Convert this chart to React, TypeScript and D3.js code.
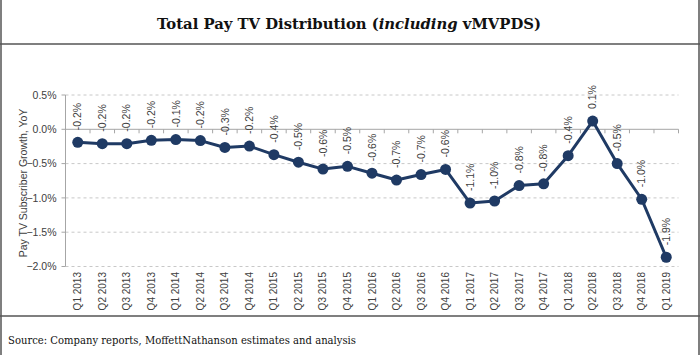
import React from "react";
import * as d3 from "d3";

const categories = [
  "Q1 2013","Q2 2013","Q3 2013","Q4 2013",
  "Q1 2014","Q2 2014","Q3 2014","Q4 2014",
  "Q1 2015","Q2 2015","Q3 2015","Q4 2015",
  "Q1 2016","Q2 2016","Q3 2016","Q4 2016",
  "Q1 2017","Q2 2017","Q3 2017","Q4 2017",
  "Q1 2018","Q2 2018","Q3 2018","Q4 2018",
  "Q1 2019",
];
const values = [
  -0.19, -0.21, -0.21, -0.16,
  -0.15, -0.165, -0.265, -0.245,
  -0.37, -0.48, -0.58, -0.54,
  -0.64, -0.74, -0.66, -0.585,
  -1.075, -1.045, -0.82, -0.795,
  -0.385, 0.12, -0.50, -1.02,
  -1.865,
];
const labels = [
  "-0.2%","-0.2%","-0.2%","-0.2%",
  "-0.1%","-0.2%","-0.3%","-0.2%",
  "-0.4%","-0.5%","-0.6%","-0.5%",
  "-0.6%","-0.7%","-0.7%","-0.6%",
  "-1.1%","-1.0%","-0.8%","-0.8%",
  "-0.4%","0.1%","-0.5%","-1.0%",
  "-1.9%",
];
const yTicks = [0.5, 0, -0.5, -1.0, -1.5, -2.0];
const title = "Total Pay TV Distribution (";
const titleItalic = "including";
const titleEnd = " vMVPDS)";
const yTitle = "Pay TV Subscriber Growth, YoY";
const source = "Source: Company reports, MoffettNathanson estimates and analysis";

const W = 700, H = 355;
const left = 65.5, right = 678.5, top = 95, bottom = 266.5;
const navy = "#1F3A64";
const sans = "'Liberation Sans', Arial, sans-serif";
const serif = "'DejaVu Serif', Georgia, serif";

export default function App() {
  const x = d3.scaleBand<string>().domain(categories).range([left, right]).padding(0);
  const y = d3.scaleLinear().domain([-2, 0.5]).range([bottom, top]);
  const cx = (c: string) => (x(c) as number) + x.bandwidth() / 2;
  const line = d3.line<number>().x((_, i) => cx(categories[i])).y((v) => y(v));
  const fmt = (v: number) => d3.format(".1f")(v) + "%";

  return (
    <svg width={W} height={H} style={{ position: "absolute", left: 0, top: 0, background: "#fff" }}>
      <rect x={0} y={0} width={W} height={H} fill="#fff" />
      {/* frame */}
      <line x1={1} y1={0} x2={1} y2={H} stroke="#555" strokeWidth={1.5} />
      <line x1={699} y1={0} x2={699} y2={H} stroke="#555" strokeWidth={1.5} />
      <line x1={0} y1={44} x2={W} y2={44} stroke="#555" strokeWidth={1.5} />
      <line x1={0} y1={316} x2={W} y2={316} stroke="#555" strokeWidth={1.5} />

      {/* title */}
      <text x={349} y={29} textAnchor="middle" fontFamily={serif} fontWeight="bold" fontSize={14.5} fill="#111" textLength={384} lengthAdjust="spacingAndGlyphs">
        {title}
        <tspan fontStyle="italic">{titleItalic}</tspan>
        {titleEnd}
      </text>

      {/* gridlines */}
      {yTicks.filter((t) => t !== 0).map((t) => (
        <line key={"g" + t} x1={left} x2={right} y1={y(t)} y2={y(t)} stroke="#c8c8c8" strokeWidth={1} strokeDasharray="3,3" />
      ))}
      {/* y axis */}
      <line x1={left} x2={left} y1={top} y2={bottom} stroke="#a6a6a6" strokeWidth={1} />
      {yTicks.map((t) => (
        <g key={"yt" + t}>
          <line x1={left - 4} x2={left} y1={y(t)} y2={y(t)} stroke="#a6a6a6" />
          <text x={left - 9} y={y(t)} dy="0.35em" textAnchor="end" fontFamily={sans} fontSize={10.5} fill="#404040">
            {fmt(t)}
          </text>
        </g>
      ))}
      {/* zero axis */}
      <line x1={left} x2={right} y1={y(0)} y2={y(0)} stroke="#a6a6a6" strokeWidth={1} />
      {categories.map((c) => (
        <line key={"xt" + c} x1={(x(c) as number) + x.bandwidth()} x2={(x(c) as number) + x.bandwidth()} y1={y(0)} y2={y(0) + 4} stroke="#a6a6a6" />
      ))}
      {/* x labels */}
      {categories.map((c) => (
        <text key={"xl" + c} transform={`translate(${cx(c)},272) rotate(-90)`} textAnchor="end" dy="0.35em" fontFamily={sans} fontSize={10} fill="#404040">
          {c}
        </text>
      ))}
      {/* y title */}
      <text transform={`translate(23,183) rotate(-90)`} textAnchor="middle" dy="0.35em" fontFamily={sans} fontSize={10.5} fill="#404040">
        {yTitle}
      </text>

      {/* series */}
      <path d={line(values) || ""} fill="none" stroke={navy} strokeWidth={3} strokeLinejoin="round" />
      {values.map((v, i) => (
        <circle key={"d" + i} cx={cx(categories[i])} cy={y(v)} r={5.5} fill={navy} />
      ))}
      {values.map((v, i) => (
        <text key={"l" + i} transform={`translate(${cx(categories[i])},${y(v) - 12}) rotate(-90)`} textAnchor="start" dy="0.35em" fontFamily={sans} fontSize={10.5} fill="#404040">
          {labels[i]}
        </text>
      ))}

      {/* source */}
      <text x={8} y={344} fontFamily={serif} fontSize={11.5} fill="#111" textLength={348} lengthAdjust="spacingAndGlyphs">
        {source}
      </text>
    </svg>
  );
}
